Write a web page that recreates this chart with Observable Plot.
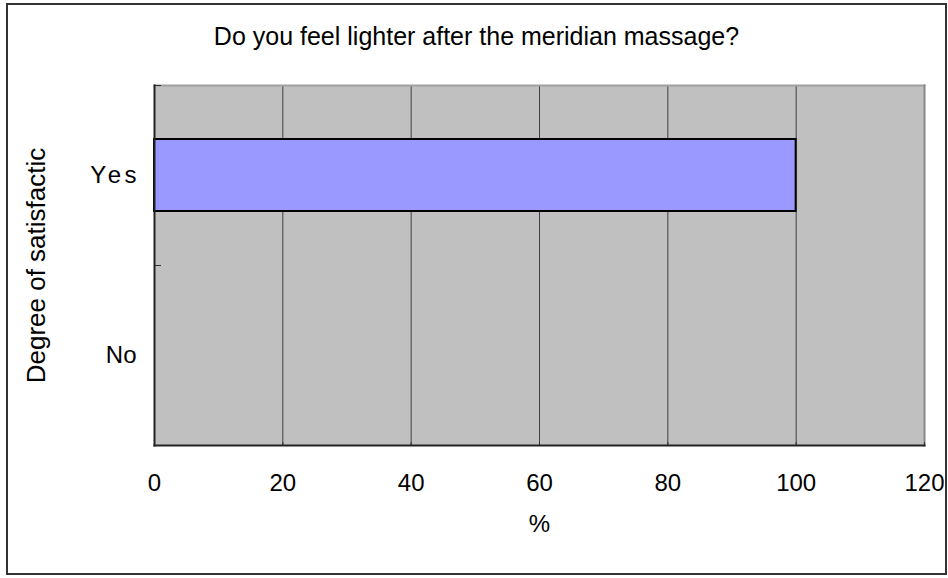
<!DOCTYPE html>
<html>
<head>
<meta charset="utf-8">
<script src="https://cdn.jsdelivr.net/npm/d3@7"></script>
<script src="https://cdn.jsdelivr.net/npm/@observablehq/plot@0.6"></script>
<style>
  html, body { margin: 0; padding: 0; background: #fff; }
  #chart { position: relative; width: 948px; height: 578px; font-family: "Liberation Sans", Arial, sans-serif; }
  #chart svg { position: absolute; left: 0; top: 0; }
  #title { position: absolute; left: 0; top: 24px; width: 948px; padding-left: 5px; box-sizing: border-box;
           text-align: center; font-size: 25px; line-height: 24px; color: #000; z-index: 2; }
  #border { position: absolute; left: 6px; top: 3px; width: 941px; height: 572px; box-sizing: border-box;
            border: 2px solid #333; pointer-events: none; z-index: 3; }
  #chart svg g[aria-label="y-axis label"] text { font-size: 26px; }
</style>
</head>
<body>
<div id="chart">
  <div id="title">Do you feel lighter after the meridian massage?</div>
  <div id="border"></div>
</div>
<script>
// Survey answers and the share of respondents (%) for each
const answers = ["Yes", "No"];
const percents = [100, 0];

// Horizontal axis ticks and the vertical grid lines between the ends
const xTicks = [0, 20, 40, 60, 80, 100, 120];
const gridTicks = [20, 40, 60, 80, 100];

const rows = answers.map((answer, i) => ({answer, pct: percents[i]}));

const W = 948, H = 578;
const mL = 154, mR = 24, mT = 85, mB = 133;
const step = (H - mT - mB) / answers.length;

const chart = Plot.plot({
  width: W,
  height: H,
  marginLeft: mL,
  marginRight: mR,
  marginTop: mT,
  marginBottom: mB,
  style: {
    fontFamily: "'Liberation Sans', Arial, sans-serif",
    fontSize: "24px",
    color: "#000",
    background: "transparent",
    overflow: "visible"
  },
  x: {domain: [0, 120], ticks: xTicks},
  y: {domain: answers, paddingInner: 0.6, paddingOuter: 0.3},
  marks: [
    Plot.frame({fill: "#c0c0c0", stroke: null}),
    Plot.ruleX(gridTicks, {stroke: "#404040", strokeWidth: 1}),
    Plot.barX(rows, {x: "pct", y: "answer", fill: "#9999ff", stroke: "#000", strokeWidth: 2}),
    Plot.frame({anchor: "top", stroke: "#a0a0a0", strokeWidth: 2}),
    Plot.frame({anchor: "right", stroke: "#888", strokeWidth: 2}),
    // short inward ticks on the category boundaries and along the bottom
    Plot.axisY({anchor: "right", frameAnchor: "left", tickSize: 6, dy: -step / 2, fill: "none", label: null, stroke: "#333"}),
    Plot.axisX({ticks: xTicks, anchor: "top", frameAnchor: "bottom", tickSize: 4, fill: "none", label: null, stroke: "#333"}),
    Plot.axisX({ticks: xTicks, tickSize: 0, tickPadding: 28, label: "%", labelAnchor: "center", labelOffset: 86, labelArrow: false}),
    Plot.axisY({tickSize: 0, tickPadding: 18, label: "Degree of satisfactic", labelAnchor: "center", labelOffset: 128}),
    Plot.frame({anchor: "left", stroke: "#222", strokeWidth: 2}),
    Plot.frame({anchor: "bottom", stroke: "#222", strokeWidth: 2})
  ]
});

// The "Yes" label is set with wide letter spacing
d3.select(chart).selectAll("text")
  .filter(function () { return this.textContent === "Yes"; })
  .style("letter-spacing", "3.5px")
  .attr("dx", 3.5);

document.getElementById("chart").prepend(chart);
</script>
</body>
</html>
